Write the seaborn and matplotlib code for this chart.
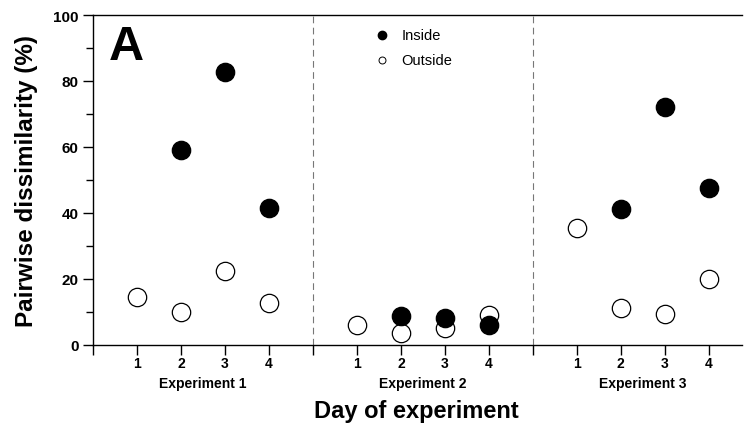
import pandas as pd
import seaborn as sns
import matplotlib.pyplot as plt
from matplotlib.ticker import MultipleLocator

# day positions on a shared axis: experiments are separated by a gap of one unit
EXP1_X = [1, 2, 3, 4]
EXP2_X = [6, 7, 8, 9]
EXP3_X = [11, 12, 13, 14]
SEPARATORS = [5, 10]
DAY_LABELS = ["1", "2", "3", "4"]
EXPERIMENTS = ["Experiment 1", "Experiment 2", "Experiment 3"]

# inside values (experiment 1 day 1 and experiment 3 day 1 have no inside point)
INSIDE_X = [2, 3, 4, 7, 8, 9, 12, 13, 14]
INSIDE_Y = [59.1, 82.7, 41.5, 8.9, 8.2, 6.1, 41.3, 72.2, 47.7]

OUTSIDE_X = [1, 2, 3, 4, 6, 7, 8, 9, 11, 12, 13, 14]
OUTSIDE_Y = [14.5, 10.0, 22.4, 12.7, 6.1, 3.6, 5.2, 9.2, 35.4, 11.1, 9.4, 20.0]


def main():
    sns.set_style("ticks")
    plt.rcParams["font.family"] = ["Liberation Sans", "DejaVu Sans"]
    plt.rcParams["text.color"] = "black"
    plt.rcParams["axes.labelcolor"] = "black"
    plt.rcParams["xtick.color"] = "black"
    plt.rcParams["ytick.color"] = "black"

    inside = pd.DataFrame({"day": INSIDE_X, "value": INSIDE_Y})
    outside = pd.DataFrame({"day": OUTSIDE_X, "value": OUTSIDE_Y})

    fig = plt.figure(figsize=(7.44, 4.27), dpi=100)
    ax = fig.add_axes([0.125, 0.19, 0.872, 0.7725])

    sns.scatterplot(data=outside, x="day", y="value", ax=ax, s=175,
                    facecolor="white", edgecolor="black", linewidth=0.9,
                    zorder=3)
    sns.scatterplot(data=inside, x="day", y="value", ax=ax, s=175,
                    color="black", edgecolor="black", linewidth=0.9,
                    zorder=4)

    for sep in SEPARATORS:
        ax.axvline(sep, color="#777777", linestyle=(0, (6, 4)),
                   linewidth=0.8, zorder=1)

    ax.set_xlim(0, 14.75)
    ax.set_ylim(0, 100)

    ticks = [0] + EXP1_X + [SEPARATORS[0]] + EXP2_X + [SEPARATORS[1]] + EXP3_X
    labels = [""] + DAY_LABELS + [""] + DAY_LABELS + [""] + DAY_LABELS
    ax.set_xticks(ticks)
    ax.set_xticklabels(labels, fontsize=10, fontweight="bold")

    ax.yaxis.set_major_locator(MultipleLocator(20))
    ax.yaxis.set_minor_locator(MultipleLocator(10))
    for lab in ax.get_yticklabels():
        lab.set_fontsize(11)
        lab.set_fontweight("bold")

    ax.tick_params(axis="both", which="major", length=7, width=1, color="black")
    ax.tick_params(axis="y", which="minor", length=5, width=1, color="black")
    ax.tick_params(axis="x", pad=1)

    for side in ["left", "bottom", "top"]:
        ax.spines[side].set_color("black")
        ax.spines[side].set_linewidth(1)
    ax.spines["right"].set_visible(False)

    ax.set_xlabel("")
    ax.set_ylabel("Pairwise dissimilarity (%)", fontsize=17.5,
                  fontweight="bold", labelpad=11)

    # experiment group labels
    centers = [sum(EXP1_X) / 4, sum(EXP2_X) / 4, sum(EXP3_X) / 4]
    for c, name in zip(centers, EXPERIMENTS):
        ax.text(c, -0.116, name, transform=ax.get_xaxis_transform(),
                ha="center", va="center", fontsize=10, fontweight="bold")

    fig.text(0.559, 0.037, "Day of experiment",
             ha="center", va="center", fontsize=17, fontweight="bold")

    ax.text(0.025, 0.905, "A", transform=ax.transAxes, fontsize=35,
            fontweight="bold", ha="left", va="center")

    # legend drawn as marker + label pairs
    ax.plot([0.446], [0.94], "o", color="black", markersize=6,
            transform=ax.transAxes)
    ax.plot([0.446], [0.865], "o", markerfacecolor="white",
            markeredgecolor="black", markersize=5, markeredgewidth=0.7,
            transform=ax.transAxes)
    ax.text(0.475, 0.94, "Inside", transform=ax.transAxes, fontsize=10.5,
            va="center")
    ax.text(0.475, 0.865, "Outside", transform=ax.transAxes, fontsize=10.5,
            va="center")

    fig.savefig("out.png", dpi=100)


if __name__ == "__main__":
    main()
